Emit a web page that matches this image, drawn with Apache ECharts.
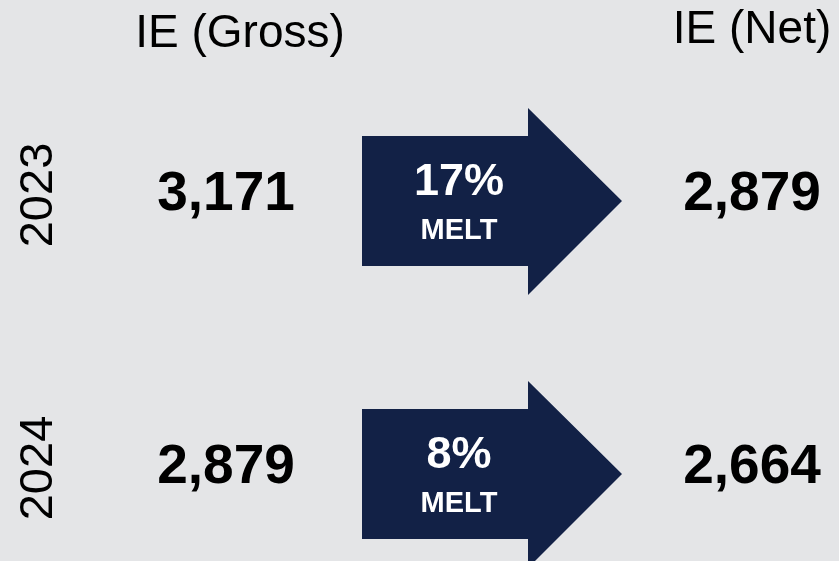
<!DOCTYPE html>
<html>
<head>
<meta charset="utf-8">
<script src="https://cdn.jsdelivr.net/npm/echarts@6/dist/echarts.min.js"></script>
<style>
  html, body { margin: 0; padding: 0; background: #e4e5e7; }
  #main { width: 839px; height: 561px; }
</style>
</head>
<body>
<div id="main"></div>
<script>
// data
var years = ['2023', '2024'];
var grossValues = [3171, 2879];
var netValues = [2879, 2664];
var meltPct = [17, 8];
var columns = ['IE (Gross)', 'Melt', 'IE (Net)'];

var FONT = 'Liberation Sans';
var NAVY = '#122146';

function fmt(v) {
  return v.toLocaleString('en-US');
}

var chart = echarts.init(document.getElementById('main'));

// arrow shape, relative to the middle column / row
function renderArrow(params, api) {
  var c = api.coord([api.value(0), api.value(1)]);
  var x = c[0], y = c[1] + 6;
  var pts = [
    [x - 127, y - 65], [x + 39, y - 65], [x + 39, y - 93],
    [x + 133, y], [x + 39, y + 94], [x + 39, y + 65], [x - 127, y + 65]
  ];
  return {
    type: 'group',
    children: [
      { type: 'polygon', shape: { points: pts }, style: { fill: NAVY } },
      {
        type: 'text',
        style: {
          text: api.value(2) + '%', x: x - 30, y: y - 18,
          align: 'center', verticalAlign: 'middle', fill: '#fff',
          fontSize: 45, fontWeight: 'bold', fontFamily: FONT
        }
      },
      {
        type: 'text',
        style: {
          text: 'MELT', x: x - 30, y: y + 30,
          align: 'center', verticalAlign: 'middle', fill: '#fff',
          fontSize: 29, fontWeight: 'bold', fontFamily: FONT
        }
      }
    ]
  };
}

var valueLabel = {
  show: true,
  position: 'inside',
  fontSize: 55,
  fontWeight: 'bold',
  fontFamily: FONT,
  color: '#000',
  opacity: 1,
  formatter: function (p) { return fmt(p.value[2]); }
};

var option = {
  backgroundColor: '#e4e5e7',
  animation: false,
  grid: { left: 226, right: 87, top: 195, bottom: 93 },
  xAxis: {
    type: 'category',
    position: 'top',
    boundaryGap: false,
    data: [
      { value: columns[0], textStyle: { padding: [0, 0, 0, 28] } },
      { value: '' },
      { value: columns[2], textStyle: { padding: [0, 0, 4, 0] } }
    ],
    axisLine: { show: false },
    axisTick: { show: false },
    splitLine: { show: false },
    axisLabel: {
      interval: 0,
      margin: 138,
      fontSize: 46,
      fontFamily: FONT,
      color: '#000'
    }
  },
  yAxis: {
    type: 'category',
    inverse: true,
    boundaryGap: false,
    data: years,
    axisLine: { show: false },
    axisTick: { show: false },
    splitLine: { show: false },
    axisLabel: {
      rotate: 90,
      margin: 163,
      fontSize: 47,
      fontFamily: FONT,
      color: '#000'
    }
  },
  series: [
    {
      type: 'custom',
      renderItem: renderArrow,
      silent: true,
      data: years.map(function (y, i) { return [1, i, meltPct[i]]; })
    },
    {
      type: 'scatter',
      symbolSize: 0,
      silent: true,
      itemStyle: { opacity: 1 },
      label: valueLabel,
      data: years.map(function (y, i) { return [0, i, grossValues[i]]; })
    },
    {
      type: 'scatter',
      symbolSize: 0,
      silent: true,
      itemStyle: { opacity: 1 },
      label: valueLabel,
      data: years.map(function (y, i) { return [2, i, netValues[i]]; })
    }
  ]
};

chart.setOption(option);
</script>
</body>
</html>
